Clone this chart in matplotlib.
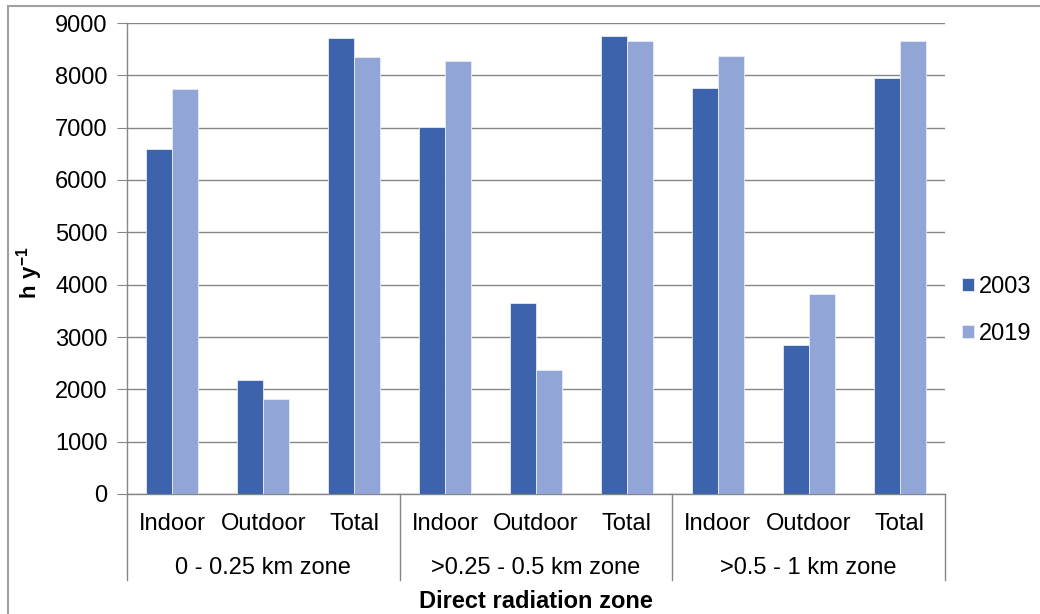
import matplotlib.pyplot as plt
import numpy as np
from matplotlib.lines import Line2D
from matplotlib.patches import Rectangle


# data
zones = ["0 - 0.25 km zone", ">0.25 - 0.5 km zone", ">0.5 - 1 km zone"]
places = ["Indoor", "Outdoor", "Total"]

hours_2003 = [6600, 2180, 8710, 7020, 3650, 8760, 7760, 2850, 7950]
hours_2019 = [7730, 1820, 8350, 8280, 2370, 8660, 8360, 3830, 8660]

years = ["2003", "2019"]
colors = ["#3C63AC", "#91A5D6"]

plt.rcParams["font.family"] = ["Liberation Sans", "DejaVu Sans"]
plt.rcParams["mathtext.fontset"] = "custom"
plt.rcParams["mathtext.rm"] = "Liberation Sans"
plt.rcParams["mathtext.bf"] = "Liberation Sans:bold"

fig = plt.figure(figsize=(10.4, 6.14), dpi=100)
ax = fig.add_axes([127 / 1040, 1 - 494 / 614, 818 / 1040, 471 / 614])

# chart area border (top and left edges visible)
fig.patches.append(
    Rectangle(
        (8 / 1040, -0.1), 1.1, 1 - 6 / 614 + 0.1,
        transform=fig.transFigure, fill=False,
        edgecolor="#A0A0A0", linewidth=1.5,
    )
)

x = np.arange(len(hours_2003))
width = 0.286

ax.bar(x - width / 2, hours_2003, width, color=colors[0],
       edgecolor="#E8ECF5", linewidth=0.6, label=years[0], zorder=3)
ax.bar(x + width / 2, hours_2019, width, color=colors[1],
       edgecolor="#E8ECF5", linewidth=0.6, label=years[1], zorder=3)

ax.set_xlim(-0.5, len(x) - 0.5)
ax.set_ylim(0, 9000)
ax.set_yticks(range(0, 9001, 1000))
ax.tick_params(axis="y", labelsize=17, length=7, color="#868686", pad=7)
ax.set_xticks([])

ax.grid(axis="y", color="#868686", linewidth=1, zorder=0)
for side in ["top", "right"]:
    ax.spines[side].set_visible(False)
for side in ["left", "bottom"]:
    ax.spines[side].set_color("#868686")
    ax.spines[side].set_linewidth(1)

# multi-level category axis
trans = ax.get_xaxis_transform()
for i, pos in enumerate(x):
    ax.text(pos, -0.064, places[i % 3], transform=trans, ha="center",
            va="center", fontsize=17)
for g, zone in enumerate(zones):
    ax.text(3 * g + 1, -0.157, zone, transform=trans, ha="center",
            va="center", fontsize=17)
for edge in [-0.5, 2.5, 5.5, 8.5]:
    ax.add_line(Line2D([edge, edge], [0, -0.183], transform=trans,
                       color="#868686", linewidth=1, clip_on=False))

ax.text(0.5, -0.228, "Direct radiation zone", transform=ax.transAxes,
        ha="center", va="center", fontsize=17, fontweight="bold")
ax.text(-0.119, 0.47, r"$\mathbf{h\ y^{-1}}$", transform=ax.transAxes,
        ha="center", va="center", fontsize=16, rotation=90)

ax.legend(loc="center left", bbox_to_anchor=(1.021, 0.39), frameon=False,
          fontsize=17, handlelength=0.5, handleheight=0.5,
          handletextpad=0.2, labelspacing=1.05, borderpad=0,
          borderaxespad=0)

fig.savefig("out.png", dpi=100)
